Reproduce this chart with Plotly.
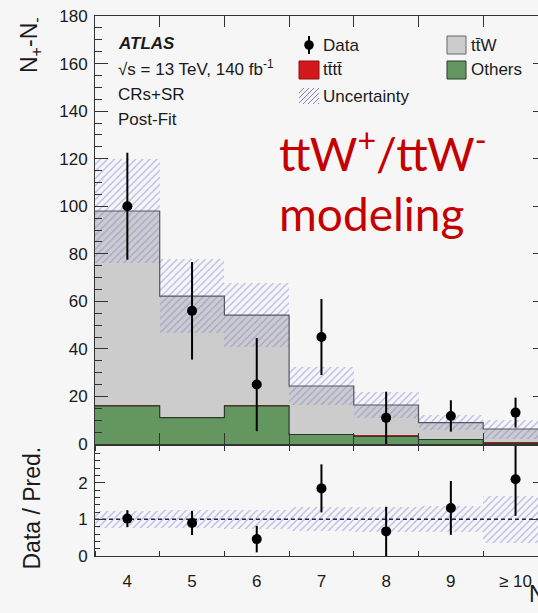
import numpy as np
import plotly.graph_objects as go

# ---------------- data ----------------
labels = ["4", "5", "6", "7", "8", "9", "≥ 10"]
others = [16.0, 11.1, 16.0, 4.0, 3.2, 1.9, 0.4]
tttt = [0.3, 0.3, 0.3, 0.4, 0.4, 0.3, 0.3]
ttw = [81.7, 50.8, 37.9, 20.0, 12.8, 6.8, 5.6]
unc = [22.0, 15.5, 13.6, 8.0, 5.6, 3.2, 4.0]
data = [100.0, 56.0, 25.0, 45.0, 11.0, 11.8, 13.2]
data_err = [22.5, 20.5, 19.6, 16.0, 11.0, 6.6, 6.3]

# ---------------- derived ----------------
n = len(labels)
xc = np.arange(n)
edges = np.arange(n + 1) - 0.5
others_a = np.array(others)
tttt_a = np.array(tttt)
ttw_a = np.array(ttw)
total = others_a + tttt_a + ttw_a
unc_a = np.array(unc)
ratio = np.array(data) / total
ratio_err = np.array(data_err) / total
rel_unc = unc_a / total

W, H = 538, 613
L, R, T, B = 95, 0, 16, 57
PW, PH = W - L - R, H - T - B
BINPX = 64.7

def px(x):
    return (x - L) / PW

def py(y):
    return (H - B - y) / PH

GRAY = "#cccccc"
GREEN = "#64975f"
RED = "#d3181c"
HATCH = "#7e7ed6"
AX = "#333333"
FONT = "Liberation Sans"

fig = go.Figure()

def step(vals):
    v = list(vals)
    return list(edges), v + [v[-1]]

hatch = dict(shape="/", fgcolor=HATCH, size=5, solidity=0.28)

# stacked histogram bars
fig.add_trace(go.Bar(x=xc, y=others_a, base=0, width=1, marker=dict(color=GREEN, line=dict(width=0)),
                     showlegend=False, hoverinfo="skip"))
fig.add_trace(go.Bar(x=xc, y=tttt_a, base=others_a, width=1, marker=dict(color=RED, line=dict(width=0)),
                     showlegend=False, hoverinfo="skip"))
fig.add_trace(go.Bar(x=xc, y=ttw_a, base=others_a + tttt_a, width=1, marker=dict(color=GRAY, line=dict(width=0)),
                     showlegend=False, hoverinfo="skip"))
# outlines
sx, sy = step(others_a)
fig.add_trace(go.Scatter(x=sx, y=sy, mode="lines", line=dict(shape="hv", color="#2c3a2c", width=1.2),
                         showlegend=False, hoverinfo="skip"))
sx, sy = step(total)
fig.add_trace(go.Scatter(x=sx, y=sy, mode="lines", line=dict(shape="hv", color="#555566", width=1.2),
                         showlegend=False, hoverinfo="skip"))
# uncertainty band
fig.add_trace(go.Bar(x=xc, y=2 * unc_a, base=total - unc_a, width=1,
                     marker=dict(color="rgba(0,0,0,0)", line=dict(width=0), pattern=hatch),
                     showlegend=False, hoverinfo="skip"))
# data
fig.add_trace(go.Scatter(x=xc, y=data, mode="markers",
                         marker=dict(color="black", size=10),
                         error_y=dict(type="data", array=data_err, color="black", thickness=2, width=0),
                         showlegend=False, hoverinfo="skip"))

# ratio panel
fig.add_trace(go.Bar(x=xc, y=2 * rel_unc, base=1 - rel_unc, width=1, xaxis="x2", yaxis="y2",
                     marker=dict(color="rgba(0,0,0,0)", line=dict(width=0), pattern=hatch),
                     showlegend=False, hoverinfo="skip"))
fig.add_trace(go.Scatter(x=[edges[0], edges[-1]], y=[1, 1], mode="lines", xaxis="x2", yaxis="y2",
                         line=dict(color="#22224a", width=1.5, dash="4px,3px"),
                         showlegend=False, hoverinfo="skip"))
fig.add_trace(go.Scatter(x=xc, y=ratio, mode="markers", xaxis="x2", yaxis="y2",
                         marker=dict(color="black", size=10),
                         error_y=dict(type="data", array=ratio_err, color="black", thickness=2, width=0),
                         showlegend=False, hoverinfo="skip"))
# dummy traces for right-side tick axes
fig.add_trace(go.Scatter(x=[None], y=[None], yaxis="y3", showlegend=False, hoverinfo="skip"))
fig.add_trace(go.Scatter(x=[None], y=[None], xaxis="x2", yaxis="y4", showlegend=False, hoverinfo="skip"))

xr = [edges[0], edges[0] + PW / BINPX]
main_bottom = py(444)
ratio_top = py(446)

tickfont = dict(family=FONT, size=17, color="#1a1a1a")

fig.update_layout(
    width=W, height=H,
    margin=dict(l=L, r=R, t=T, b=B, pad=0),
    paper_bgcolor="#f6f6f6", plot_bgcolor="#f6f6f6",
    barmode="overlay", bargap=0,
    font=dict(family=FONT, size=17, color="#1a1a1a"),
    xaxis=dict(domain=[0, 1], anchor="y", range=xr, showgrid=False, zeroline=False,
               tickmode="array", tickvals=list(edges), showticklabels=False,
               ticks="inside", ticklen=11, tickcolor=AX, tickwidth=1,
               showline=True, linecolor=AX, linewidth=1, mirror="ticks"),
    yaxis=dict(domain=[main_bottom, 1], anchor="x", range=[0, 180], showgrid=False, zeroline=False,
               tickmode="array", tickvals=list(range(0, 181, 20)),
               ticks="inside", ticklen=13, tickcolor=AX, tickwidth=1, tickfont=tickfont,
               minor=dict(dtick=5, tick0=0, ticks="inside", ticklen=7, tickcolor=AX, tickwidth=1, showgrid=False),
               showline=True, linecolor=AX, linewidth=1, ticklabelstandoff=3),
    yaxis3=dict(overlaying="y", side="right", anchor="x", range=[0, 180], showgrid=False, zeroline=False,
                tickmode="array", tickvals=list(range(0, 181, 20)), showticklabels=False,
                ticks="inside", ticklen=5, tickcolor=AX, showline=False),
    xaxis2=dict(domain=[0, 1], anchor="y2", range=xr, showgrid=False, zeroline=False,
                tickmode="array", tickvals=list(xc), ticktext=labels, ticks="", tickfont=tickfont,
                minor=dict(tickvals=list(edges), ticks="inside", ticklen=5, tickcolor=AX, tickwidth=1, showgrid=False),
                showline=True, linecolor=AX, linewidth=1, mirror="ticks", ticklabelstandoff=10),
    yaxis2=dict(domain=[0, ratio_top], anchor="x2", range=[0, 3], showgrid=False, zeroline=False,
                tickmode="array", tickvals=[0, 1, 2],
                ticks="inside", ticklen=10, tickcolor=AX, tickwidth=1, tickfont=tickfont,
                minor=dict(dtick=0.2, tick0=0, ticks="inside", ticklen=5, tickcolor=AX, tickwidth=1, showgrid=False),
                showline=True, linecolor=AX, linewidth=1, ticklabelstandoff=3),
    yaxis4=dict(overlaying="y2", side="right", anchor="x2", range=[0, 3], showgrid=False, zeroline=False,
                tickmode="array", tickvals=[0, 1, 2], showticklabels=False,
                ticks="inside", ticklen=5, tickcolor=AX, showline=False),
)

ann = []
def text(x, y, s, size=17, xanchor="left", yanchor="middle", color="#1a1a1a", family=FONT, angle=0, align="left"):
    ann.append(dict(x=px(x), y=py(y), xref="paper", yref="paper", text=s, showarrow=False,
                    xanchor=xanchor, yanchor=yanchor, textangle=angle, align=align,
                    font=dict(family=family, size=size, color=color)))

# ATLAS labels
text(116, 43, "<b><i>ATLAS</i></b>")
text(116, 68, "√s = 13 TeV, 140 fb<sup>-1</sup>")
text(116, 94, "CRs+SR")
text(116, 120, "Post-Fit")
# legend texts
text(321, 45, "Data")
text(321, 70, "tt\u0304tt\u0304")
text(321, 96, "Uncertainty")
text(469, 45, "tt\u0304W")
text(469, 70, "Others")
# axis titles
text(30, 15, "N<sub>+</sub>-N<sub>-</sub>", size=23, xanchor="center", yanchor="top", angle=-90)
text(31, 445, "Data / Pred.", size=23, xanchor="center", yanchor="top", angle=-90)
text(527, 596, "N<sub>jets</sub>", size=23, xanchor="left", yanchor="middle")
# slide overlay text
text(277, 180, "ttW<sup>+</sup>/ttW<sup>-</sup><br>modeling", size=46, xanchor="left", yanchor="middle",
     color="#c40000", family="Lato", align="left")
fig.update_layout(annotations=ann)

shapes = []
def rect(x0, y0, x1, y1, fill, line):
    shapes.append(dict(type="rect", xref="paper", yref="paper", x0=px(x0), x1=px(x1), y0=py(y1), y1=py(y0),
                       fillcolor=fill, line=dict(color=line, width=1)))
# data legend icon
shapes.append(dict(type="line", xref="paper", yref="paper", x0=px(309), x1=px(309), y0=py(54), y1=py(36),
                   line=dict(color="black", width=2)))
shapes.append(dict(type="circle", xref="paper", yref="paper", x0=px(304.2), x1=px(313.8), y0=py(49.8), y1=py(40.2),
                   fillcolor="black", line=dict(color="black", width=0)))
rect(299, 61, 319, 79, RED, "#8a1010")
rect(447, 36, 466, 54, GRAY, "#666666")
rect(447, 61, 466, 79, GREEN, "#2c3a2c")
# hatch icon
bx0, bx1, by0, by1 = 299, 319, 88, 104
hgt = by1 - by0
for c in np.arange(bx0 - hgt, bx1, 5):
    xs = max(c, bx0)
    xe = min(c + hgt, bx1)
    if xe > xs:
        shapes.append(dict(type="line", xref="paper", yref="paper",
                           x0=px(xs), y0=py(by1 - (xs - c)), x1=px(xe), y1=py(by1 - (xe - c)),
                           line=dict(color=HATCH, width=1)))
fig.update_layout(shapes=shapes)

fig.write_html("out.html")
